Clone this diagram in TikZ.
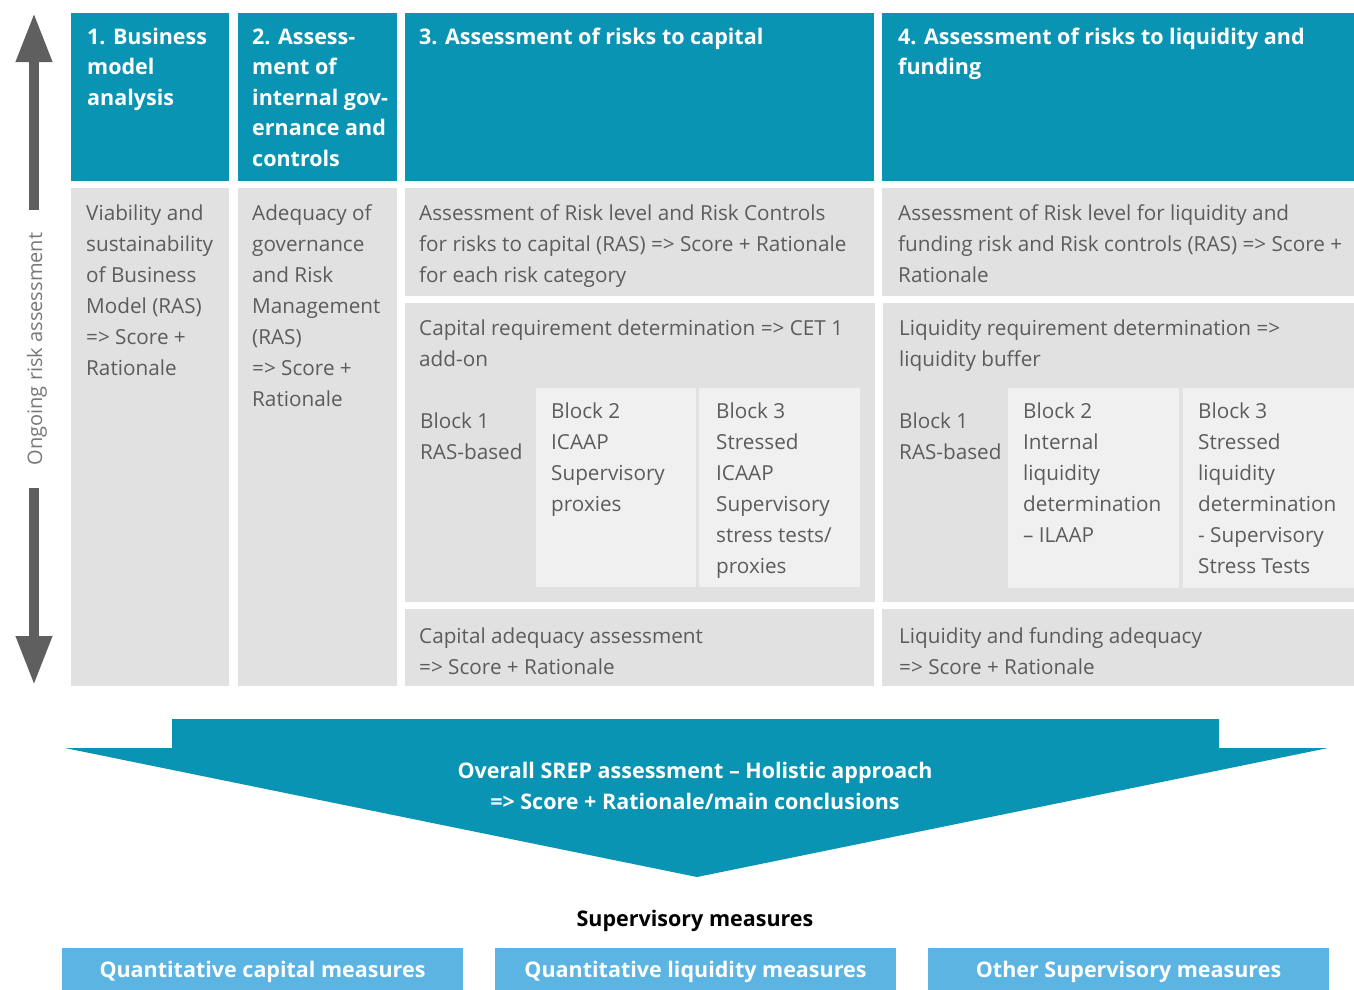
\documentclass[tikz,border=0pt]{standalone}
\usepackage{fontspec}
\setmainfont{Open Sans}
\usetikzlibrary{arrows.meta}
\definecolor{srepteal}{RGB}{8,148,178}
\definecolor{panelgrey}{RGB}{225,225,225}
\definecolor{blockgrey}{RGB}{240,240,240}
\definecolor{bodygrey}{RGB}{92,92,92}
\definecolor{arrowgrey}{RGB}{95,95,95}
\definecolor{labelgrey}{RGB}{120,120,120}
\definecolor{measureblue}{RGB}{92,180,227}
\begin{document}
\begin{tikzpicture}[x=1pt,y=-1pt,
  cell/.style={inner sep=0pt, outer sep=0pt, anchor=north west},
  head/.style={cell, fill=srepteal},
  panel/.style={cell, fill=panelgrey},
  block/.style={cell, fill=blockgrey},
  % multi-line texts are placed by the baseline of their last line
  headtext/.style={anchor=base west, inner sep=0pt, align=left, text=white,
    font=\fontsize{21.5}{30.5}\selectfont\bfseries},
  bodytext/.style={anchor=base west, inner sep=0pt, align=left, text=bodygrey,
    font=\fontsize{20.7}{31}\selectfont},
  measure/.style={cell, fill=measureblue, minimum width=401pt, minimum height=47pt,
    text=white, font=\fontsize{21.5}{25}\selectfont\bfseries},
  bigarrow/.style={fill=srepteal},
  sidearrow/.style={draw=arrowgrey, line width=10pt, line cap=butt,
    -{Triangle[width=34pt,length=49pt]}}
]
\useasboundingbox (0,0) rectangle (1354,989);

% column headers
\node[head, minimum width=158pt, minimum height=168pt] (h1) at (71,13) {};
\node[head, minimum width=159pt, minimum height=168pt] (h2) at (238,13) {};
\node[head, minimum width=469pt, minimum height=168pt] (h3) at (405,13) {};
\node[head, minimum width=472pt, minimum height=168pt] (h4) at (882,13) {};

% grey panels
\node[panel, minimum width=158pt, minimum height=498pt] (p1) at (71,188) {};
\node[panel, minimum width=159pt, minimum height=498pt] (p2) at (238,188) {};
\node[panel, minimum width=469pt, minimum height=108pt] (p3a) at (405,188) {};
\node[panel, minimum width=470pt, minimum height=299pt] (p3b) at (405,303) {};
\node[panel, minimum width=469pt, minimum height=77pt] (p3c) at (405,609) {};
\node[panel, minimum width=472pt, minimum height=108pt] (p4a) at (882,188) {};
\node[panel, minimum width=471pt, minimum height=299pt] (p4b) at (883,303) {};
\node[panel, minimum width=472pt, minimum height=77pt] (p4c) at (882,609) {};

% lighter blocks inside the requirement panels
\node[block, minimum width=160pt, minimum height=199pt] (c2) at (536,388) {};
\node[block, minimum width=161pt, minimum height=199pt] (c3) at (699,388) {};
\node[block, minimum width=171pt, minimum height=200pt] (l2) at (1008,388) {};
\node[block, minimum width=171pt, minimum height=200pt] (l3) at (1183,388) {};

% header texts
\node[headtext] (h1t) at (87,105) {1. Business\\model\\analysis};
\node[headtext] (h2t) at (252,166) {2. Assess-\\ment of\\internal gov-\\ernance and\\controls};
\node[headtext] (h3t) at (419,44) {3. Assessment of risks to capital};
\node[headtext] (h4t) at (898,74.5) {4. Assessment of risks to liquidity and\\funding};

% panel texts
\node[bodytext] (p1t) at (86,375) {Viability and\\sustainability\\of Business\\Model (RAS)\\=> Score +\\Rationale};
\node[bodytext] (p2t) at (252,406) {Adequacy of\\governance\\and Risk\\Management\\(RAS)\\=> Score +\\Rationale};
\node[bodytext] (p3at) at (419,282) {Assessment of Risk level and Risk Controls\\for risks to capital (RAS) => Score + Rationale\\for each risk category};
\node[bodytext] (p3bt) at (419,366) {Capital requirement determination => CET 1\\add-on};
\node[bodytext] (c1t) at (420,459) {Block 1\\RAS-based};
\node[bodytext] (c2t) at (551,511) {Block 2\\ICAAP\\Supervisory\\proxies};
\node[bodytext] (c3t) at (716,573) {Block 3\\Stressed\\ICAAP\\Supervisory\\stress tests/\\proxies};
\node[bodytext] (p3ct) at (419,674) {Capital adequacy assessment\\=> Score + Rationale};
\node[bodytext] (p4at) at (898,282) {Assessment of Risk level for liquidity and\\funding risk and Risk controls (RAS) => Score +\\Rationale};
\node[bodytext] (p4bt) at (899,366) {Liquidity requirement determination =>\\liquidity buffer};
\node[bodytext] (l1t) at (899,459) {Block 1\\RAS-based};
\node[bodytext] (l2t) at (1023,542) {Block 2\\Internal\\liquidity\\determination\\-- ILAAP};
\node[bodytext] (l3t) at (1198,573) {Block 3\\Stressed\\liquidity\\determination\\- Supervisory\\Stress Tests};
\node[bodytext] (p4ct) at (899,674) {Liquidity and funding adequacy\\=> Score + Rationale};

% ongoing assessment arrows
\coordinate (upbase) at (34,210);
\coordinate (uptip) at (34,13);
\coordinate (downbase) at (34,488);
\coordinate (downtip) at (34,685);
\draw[sidearrow] (upbase) -- (uptip);
\draw[sidearrow] (downbase) -- (downtip);
\node[rotate=90, inner sep=0pt, text=labelgrey, font=\fontsize{20}{24}\selectfont] (ongoing) at (37,349) {Ongoing risk assessment};

% overall SREP arrow
\fill[bigarrow] (172,719) -- (1219,719) -- (1219,748) -- (1328,748) -- (697,877)
  -- (65,748) -- (172,748) -- cycle;
\node[align=center, inner sep=0pt, text=white, font=\fontsize{21.5}{31}\selectfont\bfseries]
  (overall) at (695,786) {Overall SREP assessment -- Holistic approach\\=> Score + Rationale/main conclusions};

% supervisory measures
\node[inner sep=0pt, font=\fontsize{21.5}{25}\selectfont\bfseries] (supm) at (695,921) {Supervisory measures};
\node[measure] (m1) at (62,948) {Quantitative capital measures};
\node[measure] (m2) at (495,948) {Quantitative liquidity measures};
\node[measure] (m3) at (928,948) {Other Supervisory measures};
\end{tikzpicture}
\end{document}
